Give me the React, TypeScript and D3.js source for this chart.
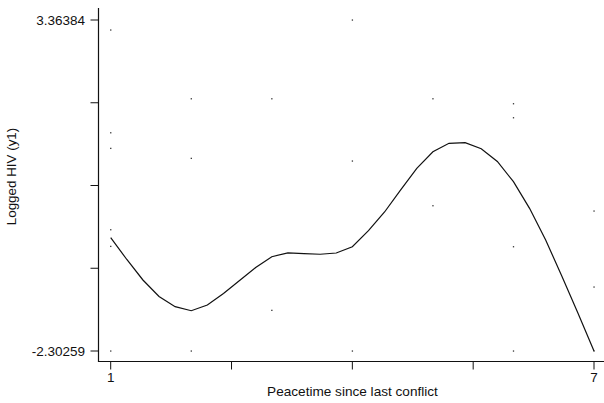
import React from "react";
import * as d3 from "d3";

// Scatter observations (peacetime, logged HIV)
const obsX: number[] = [1, 1, 1, 1, 1, 1, 2, 2, 2, 3, 3, 4, 4, 4, 5, 5, 6, 6, 6, 6, 7, 7, 7];
const obsY: number[] = [
  3.193, 1.434, 1.167, -0.226, -0.511, -2.30259,
  2.016, 0.996, -2.30259,
  2.016, -1.606,
  3.36384, 0.95, -2.30259,
  2.016, 0.185,
  1.931, 1.691, -0.517, -2.30259,
  0.094, -1.207, -2.30259,
];

// Smoothed fit line
const fitX: number[] = [
  1, 1.2, 1.4, 1.6, 1.8, 2, 2.2, 2.4, 2.6, 2.8, 3, 3.2, 3.4, 3.6, 3.8, 4,
  4.2, 4.4, 4.6, 4.8, 5, 5.2, 5.4, 5.6, 5.8, 6, 6.2, 6.4, 6.6, 6.8, 7,
];
const fitY: number[] = [
  -0.363, -0.736, -1.087, -1.37, -1.544, -1.613, -1.515, -1.318, -1.096, -0.873,
  -0.688, -0.622, -0.634, -0.646, -0.625, -0.517, -0.243, 0.077, 0.454, 0.825,
  1.109, 1.253, 1.263, 1.161, 0.942, 0.596, 0.14, -0.402, -1.019, -1.652, -2.30259,
];

const yMin = -2.30259;
const yMax = 3.36384;
const xTicks: number[] = [1, 2.5, 4, 5.5, 7];
const xTickLabels: string[] = ["1", "", "", "", "7"];
const yTicks: number[] = [0, 1, 2, 3, 4].map((i) => yMin + ((yMax - yMin) * i) / 4);
const yTickLabels: string[] = ["-2.30259", "", "", "", "3.36384"];

const xTitle = "Peacetime since last conflict";
const yTitle = "Logged HIV (y1)";

export default function App() {
  const W = 604;
  const H = 403;
  const x = d3.scaleLinear().domain([1, 7]).range([110.7, 594]);
  const y = d3.scaleLinear().domain([yMin, yMax]).range([351, 20]);
  const axisX = 98.5;
  const axisY = 361.5;
  const font = "'Liberation Sans', Arial, sans-serif";

  const line = d3
    .line<number>()
    .x((_, i) => x(fitX[i]))
    .y((d) => y(d))
    .curve(d3.curveLinear);

  return (
    <svg
      width={W}
      height={H}
      style={{ position: "absolute", left: 0, top: 0, background: "#fff" }}
      fontFamily={font}
    >
      <rect x={0} y={0} width={W} height={H} fill="#fff" />
      {/* scatter dots */}
      {obsX.map((vx, i) => (
        <rect
          key={i}
          x={x(vx) - 0.6}
          y={y(obsY[i]) - 0.6}
          width={1.3}
          height={1.3}
          fill="#333"
        />
      ))}
      {/* fit line */}
      <path d={line(fitY) || ""} fill="none" stroke="#111" strokeWidth={1.2} />
      {/* axes */}
      <line x1={axisX} y1={8} x2={axisX} y2={axisY + 0.5} stroke="#111" strokeWidth={1.2} />
      <line x1={axisX} y1={axisY} x2={604} y2={axisY} stroke="#111" strokeWidth={1.2} />
      {yTicks.map((t, i) => (
        <g key={"y" + i}>
          <line x1={axisX - 8} x2={axisX} y1={y(t)} y2={y(t)} stroke="#111" strokeWidth={1} />
          {yTickLabels[i] && (
            <text x={85} y={y(t) + 4.7} fontSize={13.5} textAnchor="end" fill="#111">
              {yTickLabels[i]}
            </text>
          )}
        </g>
      ))}
      {xTicks.map((t, i) => (
        <g key={"x" + i}>
          <line x1={x(t)} x2={x(t)} y1={axisY} y2={axisY + 8} stroke="#111" strokeWidth={1} />
          {xTickLabels[i] && (
            <text x={x(t)} y={381.5} fontSize={13.5} textAnchor="middle" fill="#111">
              {xTickLabels[i]}
            </text>
          )}
        </g>
      ))}
      <text x={352.5} y={395.5} fontSize={13.6} textAnchor="middle" fill="#111">
        {xTitle}
      </text>
      <text
        transform={`translate(16,176.5) rotate(-90)`}
        fontSize={13.4}
        textAnchor="middle"
        fill="#111"
      >
        {yTitle}
      </text>
    </svg>
  );
}
